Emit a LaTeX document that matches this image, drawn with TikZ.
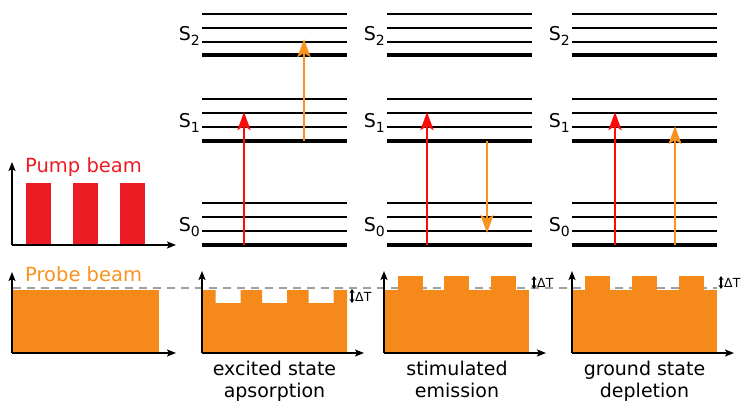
\documentclass[tikz,border=0pt]{standalone}
\usepackage{fontspec}
\setmainfont{DejaVu Sans}
\usetikzlibrary{arrows.meta}
\definecolor{pumpred}{HTML}{ED1C24}
\definecolor{arrred}{HTML}{FF0A0A}
\definecolor{probeor}{HTML}{F58A1A}
\definecolor{arror}{HTML}{F7931E}
\definecolor{dashgrey}{HTML}{A0A0A0}
\tikzset{
  thinlevel/.style={line width=2.4pt},
  thicklevel/.style={line width=4.6pt},
  axis/.style={line width=2pt,-{Stealth[width=7pt,length=9pt,inset=2pt]}},
  bigarrow/.style={line width=2.6pt,-{Stealth[width=13pt,length=18pt,inset=4pt]}},
  dtarrow/.style={line width=1.2pt,{Stealth[width=5pt,length=4pt]}-{Stealth[width=5pt,length=4pt]}},
  lvl/.style={font=\fontsize{19}{19}\selectfont,inner sep=0pt},
  caption/.style={font=\fontsize{19}{19}\selectfont,inner sep=0pt,anchor=base},
  dtlabel/.style={font=\fontsize{12.5}{12.5}\selectfont,inner sep=0pt,anchor=west},
}
\newcommand{\subS}[1]{S\raisebox{-0.28em}{\fontsize{14}{14}\selectfont #1}}
\begin{document}
\begin{tikzpicture}[x=1pt,y=-1pt]
\useasboundingbox (0,0) rectangle (743,402);
% dashed reference line
\draw[dashgrey,line width=2.8pt,dash pattern=on 8pt off 6pt] (13,288) -- (717,288);

% ---------- Pump beam panel ----------
\fill[pumpred] (26,183) rectangle (51,245);
\fill[pumpred] (73,183) rectangle (98,245);
\fill[pumpred] (120,183) rectangle (145,245);
\coordinate (po) at (12,245);
\coordinate (py) at (12,162);
\coordinate (px) at (176,245);
\draw[axis] (po) -- (py);
\draw[axis] (po) -- (px);
\node[font=\fontsize{19.5}{19.5}\selectfont,text=pumpred,inner sep=0pt,anchor=base west] (pumplbl) at (25,172) {Pump beam};

% ---------- Probe beam panel ----------
\fill[probeor] (13,290) rectangle (159,353);
\coordinate (qo) at (12,353);
\coordinate (qy) at (12,272);
\coordinate (qx) at (176,353);
\draw[axis] (qo) -- (qy);
\draw[axis] (qo) -- (qx);
\node[font=\fontsize{19.5}{19.5}\selectfont,text=arror,inner sep=0pt,anchor=base west] (probelbl) at (25,281) {Probe beam};

% ---------- energy level diagrams ----------
\foreach \x [count=\i] in {202,387,572}{
  \foreach \y in {14,28,42,99,113,127,203,217,231}{
    \draw[thinlevel] (\x,\y) -- (\x+145,\y);
  }
  \foreach \y in {55,141,245}{
    \draw[thicklevel] (\x,\y) -- (\x+145,\y);
  }
  \node[lvl,anchor=base east] (s2-\i) at (\x-2,40) {\subS{2}};
  \node[lvl,anchor=base east] (s1-\i) at (\x-2,127) {\subS{1}};
  \node[lvl,anchor=base east] (s0-\i) at (\x-2,231) {\subS{0}};
}

% arrows panel 1: excited state absorption
\coordinate (r1a) at (244,245); \coordinate (r1b) at (244,112);
\coordinate (o1a) at (304,141); \coordinate (o1b) at (304,39);
\draw[bigarrow,arrred] (r1a) -- (r1b);
\draw[bigarrow,arror] (o1a) -- (o1b);
% panel 2: stimulated emission
\coordinate (r2a) at (427,245); \coordinate (r2b) at (427,112);
\coordinate (o2a) at (487,141); \coordinate (o2b) at (487,233);
\draw[bigarrow,arrred] (r2a) -- (r2b);
\draw[bigarrow,arror] (o2a) -- (o2b);
% panel 3: ground state depletion
\coordinate (r3a) at (615,245); \coordinate (r3b) at (615,112);
\coordinate (o3a) at (675,245); \coordinate (o3b) at (675,126);
\draw[bigarrow,arrred] (r3a) -- (r3b);
\draw[bigarrow,arror] (o3a) -- (o3b);

% ---------- probe signal panels ----------
% panel 1: dips
\fill[probeor] (202,290) -- (215.5,290) -- (215.5,303) -- (240.5,303) -- (240.5,290)
  -- (262,290) -- (262,303) -- (287,303) -- (287,290)
  -- (308.5,290) -- (308.5,303) -- (333.5,303) -- (333.5,290)
  -- (347,290) -- (347,353) -- (202,353) -- cycle;
% panel 2: bumps
\fill[probeor] (384,290) rectangle (529,353);
\fill[probeor] (398,276) rectangle (423,290);
\fill[probeor] (444,276) rectangle (469,290);
\fill[probeor] (491,276) rectangle (516,290);
% panel 3: bumps
\fill[probeor] (572,290) rectangle (717,353);
\fill[probeor] (585,276) rectangle (610,290);
\fill[probeor] (632,276) rectangle (657,290);
\fill[probeor] (679,276) rectangle (704,290);

\foreach \x [count=\i] in {202,384,572}{
  \coordinate (ao-\i) at (\x,353);
  \coordinate (ay-\i) at (\x,271);
  \coordinate (ax-\i) at (\x+162,353);
  \draw[axis] (ao-\i) -- (ay-\i);
  \draw[axis] (ao-\i) -- (ax-\i);
}

% Delta T markers
\coordinate (d1a) at (352,289); \coordinate (d1b) at (352,303);
\draw[dtarrow] (d1a) -- (d1b);
\node[dtlabel] (dt1) at (355,297) {ΔT};
\coordinate (d2a) at (534,276); \coordinate (d2b) at (534,289);
\draw[dtarrow] (d2a) -- (d2b);
\node[dtlabel] (dt2) at (537,283) {ΔT};
\coordinate (d3a) at (721,276); \coordinate (d3b) at (721,289);
\draw[dtarrow] (d3a) -- (d3b);
\node[dtlabel] (dt3) at (724,283) {ΔT};

% captions
\node[caption] (c1a) at (274.5,375) {excited state};
\node[caption] (c1b) at (274.5,397) {apsorption};
\node[caption] (c2a) at (457,375) {stimulated};
\node[caption] (c2b) at (457,397) {emission};
\node[caption] (c3a) at (644.5,375) {ground state};
\node[caption] (c3b) at (644.5,397) {depletion};
\end{tikzpicture}
\end{document}
